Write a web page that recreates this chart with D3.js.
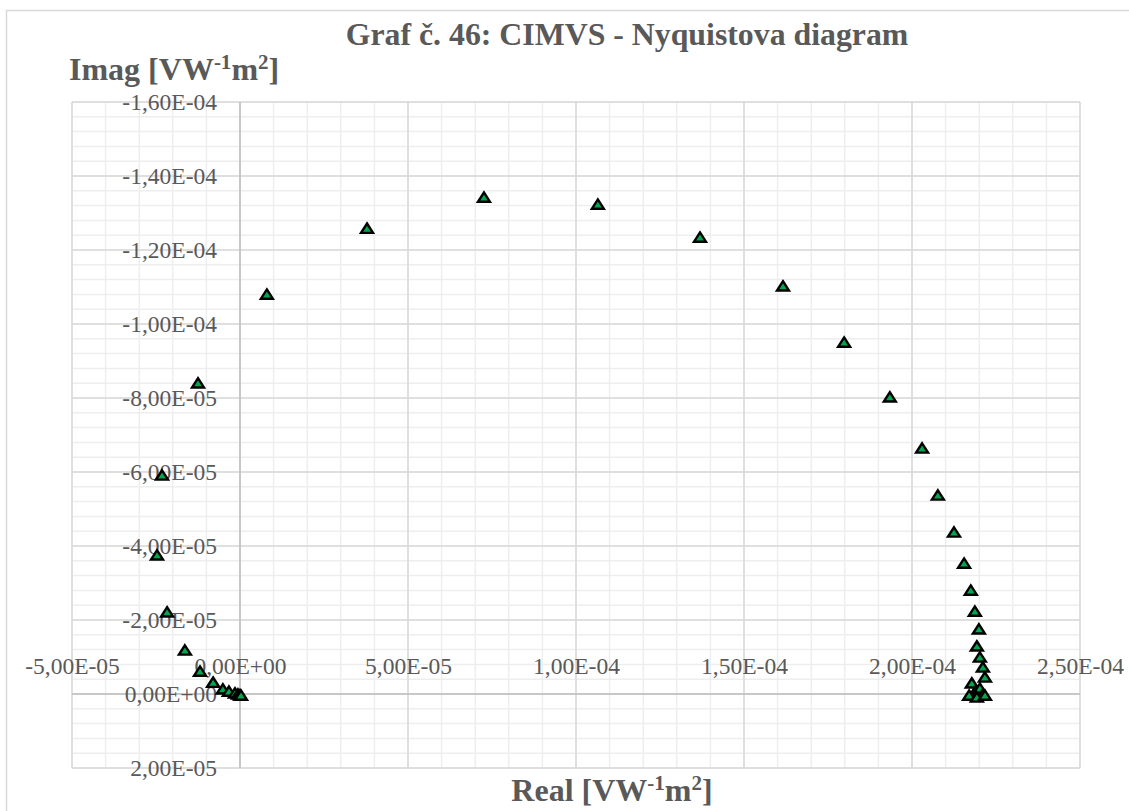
<!DOCTYPE html>
<html>
<head>
<meta charset="utf-8">
<script src="https://cdn.jsdelivr.net/npm/d3@7"></script>
<style>
  html, body { margin: 0; padding: 0; background: #ffffff; }
  svg { display: block; }
  text { font-family: "Liberation Serif", "Times New Roman", serif; fill: #595959; }
</style>
</head>
<body>
<svg id="chart" width="1129" height="811"></svg>
<script>
// Impedance spectrum, real and imaginary parts [V W^-1 m^2]
const realValues = [
  -1.25e-5, -2.32e-5, -2.47e-5, -2.17e-5, -1.64e-5, -1.19e-5, -0.80e-5,
  -0.51e-5, -0.33e-5, -0.15e-5, -0.06e-5, 0.00e-5, 0.03e-5,
  0.80e-5, 3.78e-5, 7.26e-5, 10.65e-5, 13.69e-5, 16.16e-5, 17.98e-5,
  19.34e-5, 20.30e-5, 20.77e-5, 21.25e-5, 21.55e-5, 21.75e-5, 21.87e-5,
  21.99e-5, 21.93e-5, 22.02e-5, 22.11e-5, 22.17e-5, 21.78e-5, 21.90e-5,
  22.02e-5, 22.11e-5, 21.70e-5, 21.93e-5, 22.17e-5
];
const imagValues = [
  -8.41e-5, -5.92e-5, -3.76e-5, -2.22e-5, -1.19e-5, -0.62e-5, -0.32e-5,
  -0.14e-5, -0.08e-5, -0.03e-5, 0.00e-5, 0.02e-5, 0.03e-5,
  -10.81e-5, -12.59e-5, -13.43e-5, -13.24e-5, -12.35e-5, -11.03e-5, -9.51e-5,
  -8.03e-5, -6.65e-5, -5.38e-5, -4.38e-5, -3.54e-5, -2.81e-5, -2.24e-5,
  -1.76e-5, -1.30e-5, -1.00e-5, -0.73e-5, -0.46e-5, -0.30e-5, -0.10e-5,
  -0.16e-5, 0.00e-5, 0.03e-5, 0.08e-5, 0.03e-5
];

// Axis ticks
const xTicks = [-5e-5, 0, 5e-5, 1e-4, 1.5e-4, 2e-4, 2.5e-4];
const yTicks = [-1.6e-4, -1.4e-4, -1.2e-4, -1e-4, -8e-5, -6e-5, -4e-5, -2e-5, 0, 2e-5];
const xMinorStep = 1e-5;
const yMinorStep = 4e-6;

const titleText = "Graf č. 46: CIMVS - Nyquistova diagram";

const svg = d3.select("#chart");
const plot = { left: 72, right: 1080, top: 102, bottom: 768 };

const x = d3.scaleLinear().domain([-5e-5, 2.5e-4]).range([plot.left, plot.right]);
// imaginary axis reversed: negative values at the top
const y = d3.scaleLinear().domain([-1.6e-4, 2e-5]).range([plot.top, plot.bottom]);

// Scientific format with decimal comma: -1,60E-04
function sci(v) {
  const s = v.toExponential(2);
  const [m, e] = s.split("e");
  const sign = e[0] === "-" ? "-" : "+";
  const digits = e.replace(/^[+-]/, "").padStart(2, "0");
  return m.replace(".", ",") + "E" + sign + digits;
}

// Chart border
svg.append("rect")
  .attr("x", 6.5).attr("y", 10.5)
  .attr("width", 1140).attr("height", 820)
  .attr("fill", "none").attr("stroke", "#d9d9d9").attr("stroke-width", 1.5);

// Minor grid
const xMinor = d3.range(-5e-5, 2.5e-4 + 1e-12, xMinorStep);
const yMinor = d3.range(-1.6e-4, 2e-5 + 1e-12, yMinorStep);
const grid = svg.append("g");
grid.selectAll(".xminor").data(xMinor).join("line")
  .attr("x1", d => x(d)).attr("x2", d => x(d))
  .attr("y1", plot.top).attr("y2", plot.bottom)
  .attr("stroke", "#eeeeee").attr("stroke-width", 1.5);
grid.selectAll(".yminor").data(yMinor).join("line")
  .attr("x1", plot.left).attr("x2", plot.right)
  .attr("y1", d => y(d)).attr("y2", d => y(d))
  .attr("stroke", "#eeeeee").attr("stroke-width", 1.5);

// Major grid
grid.selectAll(".xmajor").data(xTicks).join("line")
  .attr("x1", d => x(d)).attr("x2", d => x(d))
  .attr("y1", plot.top).attr("y2", plot.bottom)
  .attr("stroke", "#d9d9d9").attr("stroke-width", 1.5);
grid.selectAll(".ymajor").data(yTicks).join("line")
  .attr("x1", plot.left).attr("x2", plot.right)
  .attr("y1", d => y(d)).attr("y2", d => y(d))
  .attr("stroke", "#d9d9d9").attr("stroke-width", 1.5);

// Axis lines through zero
svg.append("line")
  .attr("x1", x(0)).attr("x2", x(0)).attr("y1", plot.top).attr("y2", plot.bottom)
  .attr("stroke", "#bfbfbf").attr("stroke-width", 1.5);
svg.append("line")
  .attr("x1", plot.left).attr("x2", plot.right).attr("y1", y(0)).attr("y2", y(0))
  .attr("stroke", "#bfbfbf").attr("stroke-width", 1.5);

// Tick labels
const xAxis = svg.append("g")
  .attr("transform", `translate(0,${y(0)})`)
  .call(d3.axisTop(x).tickValues(xTicks).tickFormat(sci).tickSize(0).tickPadding(20));
const yAxis = svg.append("g")
  .attr("transform", `translate(${x(0)},0)`)
  .call(d3.axisLeft(y).tickValues(yTicks).tickFormat(sci).tickSize(0).tickPadding(23));
[xAxis, yAxis].forEach(g => {
  g.select(".domain").remove();
  g.selectAll("text")
    .attr("fill", "#595959")
    .style("font-family", '"Liberation Serif", "Times New Roman", serif')
    .style("font-size", "23.5px");
});

// Markers: triangle centred on its bounding box
const triangle = {
  draw(context, size) {
    const w = Math.sqrt(size * 4 / Math.sqrt(3));
    const h = w * 0.78;
    context.moveTo(0, -h / 2);
    context.lineTo(w / 2, h / 2);
    context.lineTo(-w / 2, h / 2);
    context.closePath();
  }
};
const points = realValues.map((r, i) => ({ re: r, im: imagValues[i] }));
svg.append("g").selectAll("path").data(points).join("path")
  .attr("transform", d => `translate(${x(d.re)},${y(d.im)})`)
  .attr("d", d3.symbol().type(triangle).size(62))
  .attr("fill", "#00a650")
  .attr("stroke", "#000000")
  .attr("stroke-width", 2.4)
  .attr("stroke-linejoin", "miter");

// Titles
svg.append("text")
  .attr("x", 627).attr("y", 45)
  .attr("text-anchor", "middle")
  .style("font-size", "31.8px").style("font-weight", "bold")
  .text(titleText);

function unitTitle(sel, label) {
  sel.style("font-size", "32px").style("font-weight", "bold");
  sel.append("tspan").text(label + " [VW");
  sel.append("tspan").attr("dy", -11).style("font-size", "21px").text("-1");
  sel.append("tspan").attr("dy", 11).text("m");
  sel.append("tspan").attr("dy", -11).style("font-size", "21px").text("2");
  sel.append("tspan").attr("dy", 11).text("]");
}
unitTitle(svg.append("text").attr("x", 69).attr("y", 80), "Imag");
unitTitle(svg.append("text").attr("x", 612).attr("y", 801).attr("text-anchor", "middle"), "Real");
</script>
</body>
</html>
